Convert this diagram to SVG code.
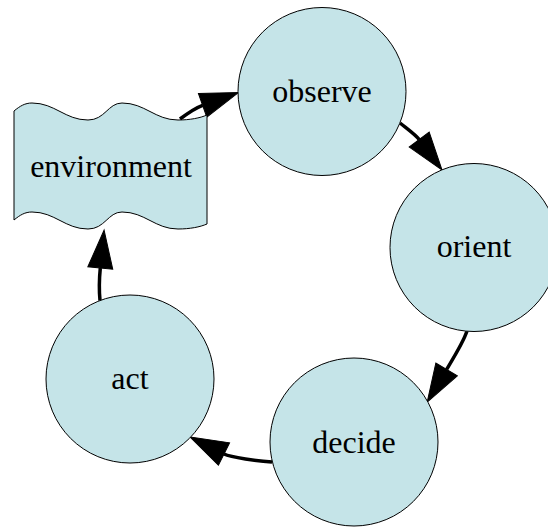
<svg xmlns="http://www.w3.org/2000/svg" width="548" height="529" viewBox="0 0 548 529">
<style>
.node{fill:#c5e4e8;stroke:#000;stroke-width:1}
.lbl{font-family:'Liberation Serif','DejaVu Serif',serif;font-size:32px;fill:#000;text-anchor:middle}
.edge{fill:none;stroke:#000;stroke-width:3.5;marker-end:url(#ah)}
</style>
<defs>
<marker id="ah" markerUnits="userSpaceOnUse" markerWidth="40" markerHeight="26" viewBox="0 0 40 26" refX="0" refY="13" orient="auto" overflow="visible">
<path d="M0,0.5 L38,13 L0,25.5 Z" fill="#000" stroke="#000" stroke-width="1"/>
</marker>
</defs>
<rect width="548" height="529" fill="#fff"/>
<g id="connectors">
<path class="edge" d="M180,119 C188,113 195,108 202.6,105.3"/>
<path class="edge" d="M400,123 C406,128 415.6,134.8 419.2,139.6"/>
<path class="edge" d="M467,331 C463,343 450.7,362.5 446.6,369.4"/>
<path class="edge" d="M272,462 C258,461 231.2,457.6 224,454"/>
<path class="edge" d="M100,300.5 C99,290 99.5,276 100.3,268"/>
</g>
<g id="environment">
<path class="node" d="M14,111 C20,106 25,103 32,103 C55,103 65,120 88,120 C105,120 108,103 122,103 C145,103 155,120 178,120 C190,120 200,118 207,115 L207,224 C200,227 190,229 178,229 C155,229 145,212 122,212 C108,212 105,229 88,229 C65,229 55,212 32,212 C25,212 20,215 14,220 Z"/>
<text class="lbl" font-family="Liberation Serif, serif" x="111" y="177">environment</text>
</g>
<g id="observe">
<circle class="node" cx="322" cy="91.5" r="84"/>
<text class="lbl" font-family="Liberation Serif, serif" x="322" y="101.5">observe</text>
</g>
<g id="orient">
<circle class="node" cx="474" cy="247.5" r="84"/>
<text class="lbl" font-family="Liberation Serif, serif" x="474" y="257">orient</text>
</g>
<g id="decide">
<circle class="node" cx="354" cy="442" r="84"/>
<text class="lbl" font-family="Liberation Serif, serif" x="354" y="453">decide</text>
</g>
<g id="act">
<circle class="node" cx="130" cy="379" r="84"/>
<text class="lbl" font-family="Liberation Serif, serif" x="130" y="389">act</text>
</g>
</svg>
